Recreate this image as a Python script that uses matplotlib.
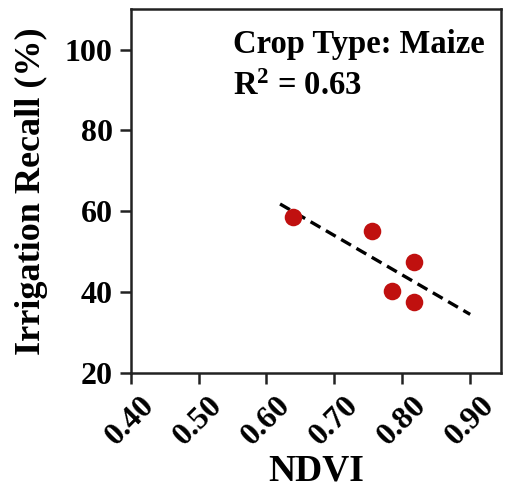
import numpy as np
import matplotlib
matplotlib.use("Agg")
import matplotlib.pyplot as plt

# Data
ndvi = [0.639, 0.756, 0.817, 0.785, 0.817]
recall = [58.6, 55.2, 47.5, 40.3, 37.6]
fit_range = [0.62, 0.90]
xticks = [0.40, 0.50, 0.60, 0.70, 0.80, 0.90]
yticks = [20, 40, 60, 80, 100]
crop_label = "Crop Type: Maize"
r2_value = 0.63

plt.rcParams['font.family'] = ['Liberation Serif', 'DejaVu Serif']
plt.rcParams['font.weight'] = 'bold'
plt.rcParams['mathtext.fontset'] = 'custom'
plt.rcParams['mathtext.rm'] = 'Liberation Serif:bold'
plt.rcParams['mathtext.it'] = 'Liberation Serif:bold'
plt.rcParams['mathtext.bf'] = 'Liberation Serif:bold'

fig = plt.figure(figsize=(5.05, 4.98), dpi=100)
ax = fig.add_axes([0.2588, 0.2516, 0.7327, 0.7297])

ax.scatter(ndvi, recall, s=160, color='#c0100f', zorder=3, linewidths=0)

slope, intercept = np.polyfit(ndvi, recall, 1)
xf = np.array(fit_range)
ax.plot(xf, slope * xf + intercept, linestyle=(0, (3.4, 1.9)), color='black', lw=2.4, zorder=2)

ax.set_xlim(0.40, 0.945)
ax.set_ylim(20, 110)
ax.set_xticks(xticks)
ax.set_xticklabels([f"{t:.2f}" for t in xticks], rotation=45, fontsize=23, fontweight='bold')
ax.set_yticks(yticks)
ax.set_yticklabels([str(t) for t in yticks], fontsize=23, fontweight='bold')
ax.tick_params(direction='out', length=8, width=1.8, colors='#222222', labelcolor='black')
ax.tick_params(axis='x', pad=5)
ax.tick_params(axis='y', pad=5)
for sp in ax.spines.values():
    sp.set_linewidth(1.8)
    sp.set_color('#222222')

ax.set_xlabel("NDVI", fontsize=27, fontweight='bold', labelpad=2)
ax.set_ylabel("Irrigation Recall (%)", fontsize=26, fontweight='bold', labelpad=12)

ax.text(0.2765, 0.945, crop_label, transform=ax.transAxes, fontsize=23.5,
        fontweight='bold', va='top', ha='left')
ax.text(0.2765, 0.83, f"R$^{{2}}$ = {r2_value:.2f}", transform=ax.transAxes, fontsize=23.5,
        fontweight='bold', va='top', ha='left')

fig.savefig("out.png", dpi=100)
